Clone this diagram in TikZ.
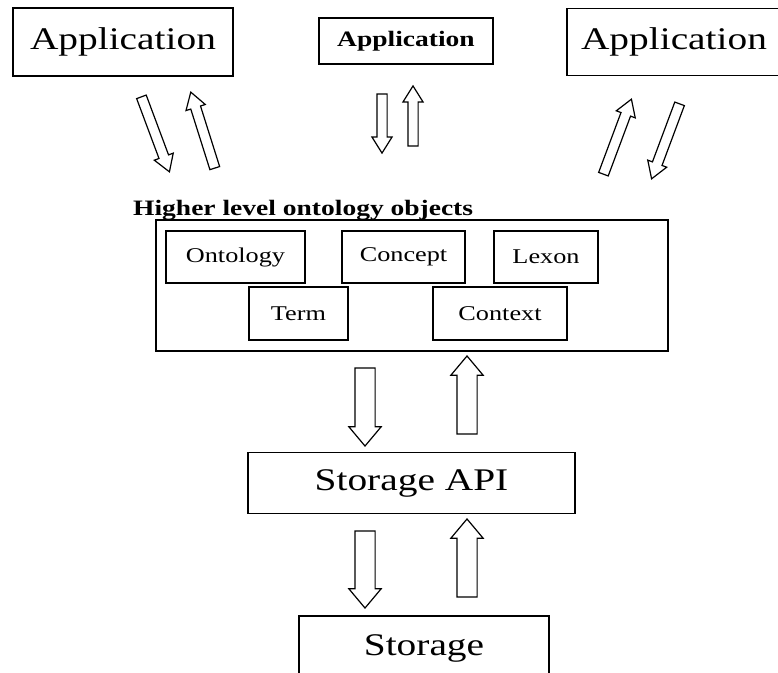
\documentclass[tikz,border=0pt]{standalone}
\usepackage{fontspec}
\setmainfont{Liberation Serif}[FakeStretch=1.25]
\usepackage{tikz}
\usetikzlibrary{calc}
\usetikzlibrary{shapes.arrows}
\tikzstyle{BoxNode}=[draw,line width=1.6pt,inner sep=0pt]
\tikzstyle{BigText}=[font=\fontsize{31.5}{36}\selectfont]
\tikzstyle{MidText}=[font=\fontsize{21}{24}\selectfont]
\tikzstyle{ThinArrow}=[single arrow,draw,fill=white,line width=1.2pt,inner xsep=0pt,
inner ysep=4.5pt,single arrow head extend=5pt,single arrow tip angle=64]
\tikzstyle{ThickArrow}=[single arrow,draw,fill=white,line width=1.2pt,inner xsep=0pt,
inner ysep=9.5pt,single arrow head extend=6pt,single arrow tip angle=80]
\tikzset{HollowArrow/.style={to path={let \p1=($(\tikztotarget)-(\tikztostart)$) in
    ($(\tikztostart)!.5!(\tikztotarget)$)
    node[#1,rotate={atan2(\y1,\x1)},minimum height={veclen(\x1,\y1)}]{}}}}

\begin{document}
\begin{tikzpicture}[x=1pt,y=-1pt]
        \clip(0,0)rectangle(778,672);
        \node[BoxNode,BigText,minimum width=220,minimum height=68](app1)at(123,42){Application};
        \node[BoxNode,font=\fontsize{22}{25}\selectfont\bfseries,minimum width=174,minimum height=46](app2)at(406,41){Application};
        \node[BoxNode,BigText,minimum width=214,minimum height=67](app3)at(674,42){Application};
        \node[anchor=base west,font=\fontsize{22}{25}\selectfont\bfseries,inner sep=0pt](title)at(133,215){Higher level ontology objects};
        \node[BoxNode,minimum width=512,minimum height=131](objects)at(412,285.5){};
        \node[BoxNode,MidText,minimum width=139,minimum height=52](ontology)at(235.5,257){Ontology};
        \node[BoxNode,MidText,minimum width=123,minimum height=52](concept)at(403.5,257){Concept};
        \node[BoxNode,MidText,minimum width=104,minimum height=52](lexon)at(546,257){Lexon};
        \node[BoxNode,MidText,minimum width=99,minimum height=53](term)at(298.5,313.5){Term};
        \node[BoxNode,MidText,minimum width=134,minimum height=53](context)at(500,313.5){Context};
        \node[BoxNode,BigText,minimum width=327,minimum height=61](api)at(411.5,483){Storage API};
        \node[BoxNode,BigText,minimum width=250,minimum height=64](storage)at(424,648){Storage};
        \coordinate(a1t)at(140,93);\coordinate(a1h)at(168,168);
        \coordinate(a2t)at(216,172);\coordinate(a2h)at(192,96);
        \coordinate(a3t)at(382,90);\coordinate(a3h)at(382,149);
        \coordinate(a4t)at(413,150);\coordinate(a4h)at(413,90);
        \coordinate(a5t)at(602,178);\coordinate(a5h)at(630,103);
        \coordinate(a6t)at(681,100);\coordinate(a6h)at(653,175);
        \coordinate(b1t)at(365,362);\coordinate(b1h)at(365,440);
        \coordinate(b2t)at(467,440);\coordinate(b2h)at(467,362);
        \coordinate(b3t)at(365,525);\coordinate(b3h)at(365,602);
        \coordinate(b4t)at(467,603);\coordinate(b4h)at(467,525);
        \path[HollowArrow=ThinArrow](a1t)to(a1h);
        \path[HollowArrow=ThinArrow](a2t)to(a2h);
        \path[HollowArrow=ThinArrow](a3t)to(a3h);
        \path[HollowArrow=ThinArrow](a4t)to(a4h);
        \path[HollowArrow=ThinArrow](a5t)to(a5h);
        \path[HollowArrow=ThinArrow](a6t)to(a6h);
        \path[HollowArrow=ThickArrow](b1t)to(b1h);
        \path[HollowArrow=ThickArrow](b2t)to(b2h);
        \path[HollowArrow=ThickArrow](b3t)to(b3h);
        \path[HollowArrow=ThickArrow](b4t)to(b4h);
    \end{tikzpicture}
\end{document}
